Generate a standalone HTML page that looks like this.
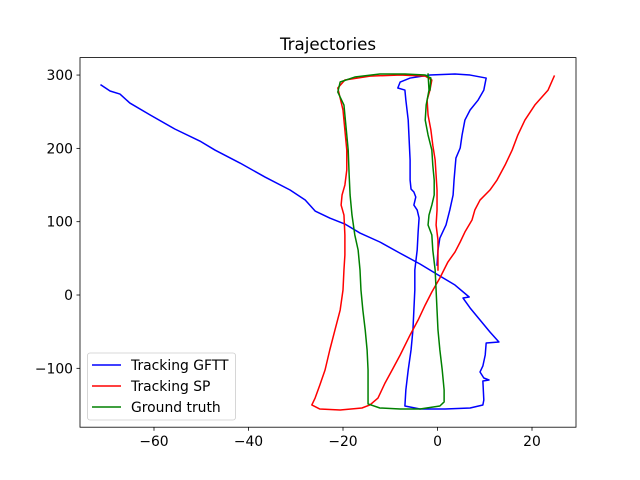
<!DOCTYPE html>
<html><head><meta charset="utf-8"><style>
body{margin:0;background:#fff;}
svg{display:block;font-family:"DejaVu Sans","Liberation Sans",sans-serif;}
</style></head><body>
<svg id="chart" width="640" height="480" viewBox="0 0 640 480" xmlns="http://www.w3.org/2000/svg">
<rect width="640" height="480" fill="#fff"/>
<text x="328" y="50" font-size="16.7" text-anchor="middle">Trajectories</text>
<g id="plot"></g>
<g id="axes"></g>
<g id="legend"></g>
</svg>
<script>
const xTicks=[-60,-40,-20,0,20];
const yTicks=[300,200,100,0,-100];
const seriesNames=["Tracking GFTT","Tracking SP","Ground truth"];
const seriesColors=["#0000ff","#ff0000","#008000"];
const gfttX=[-71.2,-69.3,-67.2,-65.1,-60.8,-55.6,-50.3,-47.1,-41.8,-36.5,-31.2,-28.0,-25.9,-22.8,-19.6,-16.4,-12.2,-8.0,-3.7,0.5,3.7,6.7,5.4,6.9,9.0,11.1,13.0,10.3,10.1,9.6,9.0,9.8,10.9,9.6,9.8,9.6,6.9,1.6,-3.7,-6.9,-6.7,-6.2,-5.6,-5.2,-5.0,-4.8,-4.8,-4.3,-4.1,-3.9,-4.3,-5.0,-4.6,-5.0,-5.6,-5.8,-5.8,-6.0,-6.2,-6.7,-6.9,-8.4,-7.9,-5.8,-1.6,3.7,6.9,10.3,9.8,8.6,6.9,5.8,5.2,4.8,3.9,3.5,3.3,2.6,1.8,0.5,0.1,-0.1];
const gfttY=[286.4,278.2,274.1,261.8,245.5,226.4,210,197.7,180,160.9,143.2,129.5,114.5,105,96.8,84.5,72.3,57.3,42.3,25.9,13.6,-2.7,-4.1,-17.7,-34.1,-50.5,-64.1,-65.5,-81.8,-96.8,-105,-113.2,-115.9,-117.3,-143.2,-150,-154.1,-155.5,-155.5,-151.4,-129.5,-102.3,-75,-47.7,-20.5,6.8,34.1,61.4,85.9,105,115.9,122.7,133.6,140.5,144.5,156.8,184.1,211.4,238.6,265.9,279.5,282.3,290.5,295.9,300,301.4,300,295.9,279.5,265.9,252.3,238.6,218.2,200.5,186.8,156.8,136.4,115.9,95.5,77.7,61.4,40.9];
const spX=[24.7,23.4,20.6,18.5,17.0,15.8,14.3,12.6,11.1,9.0,7.9,7.3,5.8,4.8,3.7,2.2,0.5,-1.2,-2.6,-4.1,-5.8,-7.9,-9.6,-11.1,-12.6,-14.3,-16.0,-20.6,-24.9,-26.6,-25.9,-24.9,-23.8,-22.8,-21.7,-20.6,-20.0,-19.8,-19.6,-19.6,-19.8,-20.4,-20.2,-19.6,-19.2,-19.2,-19.6,-20.0,-20.6,-21.1,-19.6,-14.3,-7.9,-2.6,-1.2,-1.6,-2.2,-2.0,-1.4,-1.0,-0.5,-0.3,-0.1,-0.1,-0.3,0.1,0.1];
const spY=[298.6,279.5,259.1,238.6,218.2,197.7,177.3,156.8,143.2,129.5,115.9,102.3,85.9,72.3,58.6,45,23.2,4.1,-13.6,-34.1,-54.5,-81.8,-102.3,-120,-140.5,-150,-154.1,-156.8,-155.5,-150,-140.5,-122.7,-102.3,-75,-47.7,-20.5,6.8,34.1,54.5,81.8,109.1,122.7,136.4,150,170.5,197.7,225,252.3,268.6,282.3,293.2,298.6,300,298.6,293.2,279.5,265.9,245.5,225,204.5,184.1,163.6,143.2,115.9,95.5,75,34.1];
const gtX=[-2.0,-1.8,-2.4,-2.6,-2.0,-1.2,-1.0,-0.7,-0.7,-1.2,-1.8,-2.0,-1.2,-1.0,-0.5,-0.3,-0.1,0.1,0.5,1.0,1.4,1.4,0.5,-3.7,-7.9,-12.2,-14.7,-14.7,-14.7,-14.9,-15.3,-15.8,-16.2,-16.4,-16.8,-17.5,-18.1,-18.5,-18.7,-18.9,-19.4,-19.8,-21.1,-20.6,-17.5,-12.2,-6.9,-2.6,-1.4,-1.6];
const gtY=[301.4,279.5,259.1,238.6,218.2,197.7,177.3,156.8,136.4,122.7,109.1,95.5,81.8,61.4,34.1,6.8,-20.5,-47.7,-75,-102.3,-129.5,-145.9,-151.4,-155.5,-155.5,-154.1,-148.6,-129.5,-102.3,-75,-47.7,-20.5,6.8,34.1,61.4,81.8,109.1,136.4,163.6,197.7,231.8,259.1,276.8,290.5,297.3,301.4,301.4,300,295.9,279.5];

const NS="http://www.w3.org/2000/svg";
const L=80,R=576,T=57.6,B=427.2;
const xMin=-75.66,xMax=29.31,yMin=-180.3,yMax=323.8;
function sx(v){return L+(v-xMin)/(xMax-xMin)*(R-L);}
function sy(v){return B-(v-yMin)/(yMax-yMin)*(B-T);}
function mk(tag,attrs,parent){const e=document.createElementNS(NS,tag);for(const k in attrs)e.setAttribute(k,attrs[k]);parent.appendChild(e);return e;}
const plot=document.getElementById('plot'),axes=document.getElementById('axes'),legend=document.getElementById('legend');
const defs=mk('defs',{},plot);const cp=mk('clipPath',{id:'clip'},defs);mk('rect',{x:L,y:T,width:R-L,height:B-T},cp);
const allX=[gfttX,spX,gtX],allY=[gfttY,spY,gtY],keys=['gftt','sp','ground-truth'];
for(let s=0;s<3;s++){
  let d='';for(let i=0;i<allX[s].length;i++)d+=(i?'L':'M')+sx(allX[s][i]).toFixed(2)+','+sy(allY[s][i]).toFixed(2);
  const p=mk('path',{d:d,fill:'none',stroke:seriesColors[s],'stroke-width':1.5,'stroke-linejoin':'round','stroke-linecap':'square','clip-path':'url(#clip)'},plot);
  
  
}
const frame=mk('rect',{x:L,y:T,width:R-L,height:B-T,fill:'none',stroke:'#000','stroke-width':0.8},axes);


xTicks.forEach(v=>{const x=sx(v);
  const t=mk('line',{x1:x,x2:x,y1:B,y2:B+3.5,stroke:'#000','stroke-width':0.8},axes);
  
  
  const tx=mk('text',{x:x,y:B+19,'font-size':13.9,'text-anchor':'middle'},axes);tx.textContent=(v<0?'\u2212'+(-v):String(v));
  
  
});
yTicks.forEach(v=>{const y=sy(v);
  const t=mk('line',{x1:L-3.5,x2:L,y1:y,y2:y,stroke:'#000','stroke-width':0.8},axes);
  
  
  const tx=mk('text',{x:L-7,y:y+5,'font-size':13.9,'text-anchor':'end'},axes);tx.textContent=(v<0?'\u2212'+(-v):String(v));
  
  
});
const box=mk('rect',{x:87.5,y:353,width:148,height:67,rx:2.5,fill:'#fff','fill-opacity':0.8,stroke:'#ccc','stroke-width':0.8},legend);


seriesNames.forEach((n,i)=>{const y=365+i*21;
  const g=mk('g',{},legend);
  
  
  mk('line',{x1:92,x2:121,y1:y,y2:y,stroke:seriesColors[i],'stroke-width':1.5},g);
  const t=mk('text',{x:131,y:y+5,'font-size':13.9},g);t.textContent=n;
});
</script>
</body></html>
